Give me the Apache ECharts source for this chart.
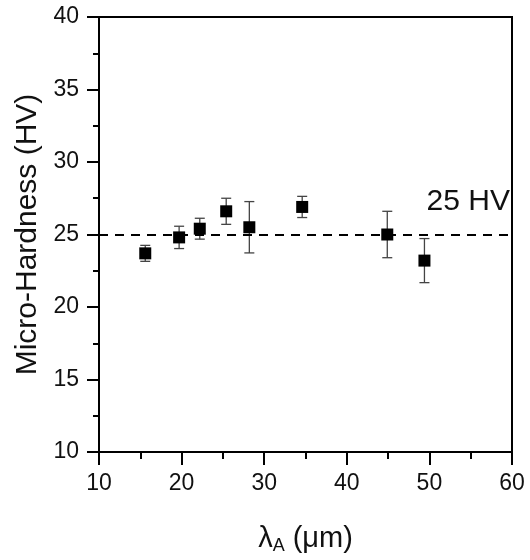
<!DOCTYPE html>
<html>
<head>
<meta charset="utf-8">
<script src="https://cdn.jsdelivr.net/npm/echarts@6/dist/echarts.min.js"></script>
<style>html,body{margin:0;padding:0;background:#fff}#c{width:530px;height:560px}</style>
</head>
<body>
<div id="c"></div>
<script>
var lambdaA = [15.6, 19.7, 22.2, 25.4, 28.2, 34.6, 44.9, 49.4];
var hardness = [23.7, 24.8, 25.4, 26.6, 25.5, 26.9, 25.0, 23.2];
var hardnessErr = [0.55, 0.77, 0.72, 0.9, 1.77, 0.73, 1.6, 1.52];
var refLevel = 25;
var refLabel = '25 HV';
var xTicks = [10, 20, 30, 40, 50, 60];
var yTicks = [10, 15, 20, 25, 30, 35, 40];

var pts = lambdaA.map(function (x, i) { return [x, hardness[i]]; });
var errData = lambdaA.map(function (x, i) { return [x, hardness[i] - hardnessErr[i], hardness[i] + hardnessErr[i]]; });

var FONT = '"Liberation Sans", Arial, sans-serif';
var chart = echarts.init(document.getElementById('c'), null, {renderer: 'canvas'});
chart.setOption({
  animation: false,
  backgroundColor: '#fff',
  grid: {left: 99, right: 18, top: 17, bottom: 108, show: true, borderColor: '#000', borderWidth: 2, backgroundColor: 'transparent'},
  xAxis: {
    type: 'value', min: xTicks[0], max: xTicks[xTicks.length - 1], interval: 10,
    name: '{l|λ}{s|A}{l| (μm)}', nameLocation: 'middle', nameGap: 70,
    nameTextStyle: {rich: {
      l: {fontFamily: FONT, fontSize: 29, color: '#111'},
      s: {fontFamily: FONT, fontSize: 18, color: '#111', padding: [15, 0, 0, 0]}
    }},
    axisLine: {lineStyle: {color: '#000', width: 2}},
    axisTick: {inside: false, length: 13, lineStyle: {color: '#000', width: 2}},
    minorTick: {show: true, splitNumber: 2, length: 7, lineStyle: {color: '#000', width: 2}},
    axisLabel: {fontFamily: FONT, fontSize: 23, color: '#111', margin: 20},
    splitLine: {show: false}
  },
  yAxis: {
    type: 'value', min: yTicks[0], max: yTicks[yTicks.length - 1], interval: 5,
    name: 'Micro-Hardness (HV)', nameLocation: 'middle', nameGap: 56,
    nameTextStyle: {fontFamily: FONT, fontSize: 30, color: '#111'},
    axisLine: {lineStyle: {color: '#000', width: 2}},
    axisTick: {inside: false, length: 12, lineStyle: {color: '#000', width: 2}},
    minorTick: {show: true, splitNumber: 2, length: 6, lineStyle: {color: '#000', width: 2}},
    axisLabel: {fontFamily: FONT, fontSize: 23, color: '#111', margin: 20},
    splitLine: {show: false}
  },
  series: [
    {
      type: 'custom',
      data: errData,
      z: 2,
      renderItem: function (params, api) {
        var x = api.value(0);
        var lo = api.coord([x, api.value(1)]);
        var hi = api.coord([x, api.value(2)]);
        var hw = 5;
        var st = {stroke: '#444', lineWidth: 1.3};
        return {type: 'group', children: [
          {type: 'line', shape: {x1: lo[0], y1: lo[1], x2: hi[0], y2: hi[1]}, style: st},
          {type: 'line', shape: {x1: lo[0] - hw, y1: lo[1], x2: lo[0] + hw, y2: lo[1]}, style: st},
          {type: 'line', shape: {x1: hi[0] - hw, y1: hi[1], x2: hi[0] + hw, y2: hi[1]}, style: st}
        ]};
      }
    },
    {
      type: 'scatter',
      data: pts,
      symbol: 'rect',
      symbolSize: 12,
      z: 3,
      itemStyle: {color: '#000', opacity: 1},
      markLine: {
        silent: true,
        symbol: 'none',
        lineStyle: {color: '#000', type: [9, 7], width: 2},
        label: {show: true, position: 'insideEndTop', formatter: refLabel, fontFamily: FONT, fontSize: 30, color: '#111', distance: [2, 18]},
        data: [{yAxis: refLevel}]
      }
    }
  ]
});
</script>
</body>
</html>
